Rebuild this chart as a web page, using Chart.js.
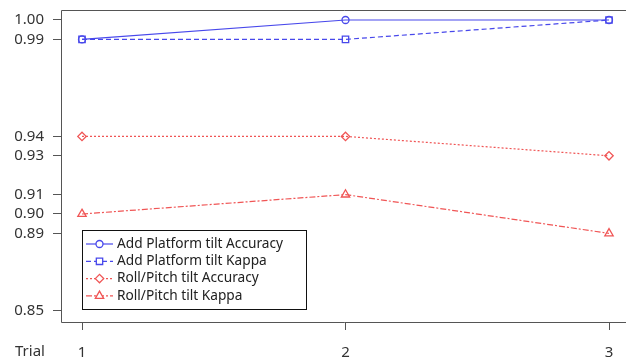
<!DOCTYPE html>
<html>
<head>
<meta charset="utf-8">
<script src="https://cdn.jsdelivr.net/npm/chart.js@4"></script>
<style>
  html, body { margin: 0; padding: 0; background: #fff; overflow: hidden; }
  #wrap { position: relative; width: 626px; height: 360px; }
</style>
</head>
<body>
<div id="wrap"><canvas id="c"></canvas></div>
<script>
// Trials on the x axis
const trials = [1, 2, 3];
// Classification results per trial
const addPlatformAccuracy = [0.99, 1.00, 1.00];
const addPlatformKappa    = [0.99, 0.99, 1.00];
const rollPitchAccuracy   = [0.94, 0.94, 0.93];
const rollPitchKappa      = [0.90, 0.91, 0.89];
// Tick values shown on the axes
const yTickValues = [0.85, 0.89, 0.90, 0.91, 0.93, 0.94, 0.99, 1.00];
const xTickValues = [1, 2, 3];

const BLUE = 'rgb(72,72,235)';
const RED = 'rgb(240,85,85)';
const FONT = '"Noto Sans", "Liberation Sans", sans-serif';

const pts = vals => vals.map((v, i) => ({ x: trials[i], y: v }));

const datasets = [
  { label: 'Add Platform tilt Accuracy', data: pts(addPlatformAccuracy),
    borderColor: BLUE, borderDash: [], pointStyle: 'circle', pointRadius: 3.5 },
  { label: 'Add Platform tilt Kappa', data: pts(addPlatformKappa),
    borderColor: BLUE, borderDash: [5, 3], pointStyle: 'rect', pointRadius: 4.5 },
  { label: 'Roll/Pitch tilt Accuracy', data: pts(rollPitchAccuracy),
    borderColor: RED, borderDash: [2, 2], pointStyle: 'rectRot', pointRadius: 4.2 },
  { label: 'Roll/Pitch tilt Kappa', data: pts(rollPitchKappa),
    borderColor: RED, borderDash: [6, 2, 2, 2], pointStyle: 'triangle', pointRadius: 4.8 }
].map(d => Object.assign(d, {
  pointBorderColor: d.borderColor,
  pointBackgroundColor: 'rgba(255,255,255,0)',
  pointBorderWidth: 1.3,
  borderWidth: 1.2,
  fill: false,
  tension: 0
}));

// Scales keep the chart area where the layout puts it (no label overhang padding)
const noOverhang = s => { s.paddingTop = 0; s.paddingBottom = 0; s.paddingLeft = 0; s.paddingRight = 0; };

// Frame on top/left/bottom, "Trial" caption and the boxed legend
const framePlugin = {
  id: 'frame',
  afterDraw(chart) {
    const { ctx, chartArea: a } = chart;
    ctx.save();
    ctx.strokeStyle = '#555';
    ctx.lineWidth = 1;
    ctx.beginPath();
    ctx.moveTo(a.right + 1, a.top + 0.5);
    ctx.lineTo(a.left + 0.5, a.top + 0.5);
    ctx.lineTo(a.left + 0.5, a.bottom + 0.5);
    ctx.lineTo(a.right + 1, a.bottom + 0.5);
    ctx.stroke();

    ctx.fillStyle = '#333';
    ctx.font = '15px ' + FONT;
    ctx.textAlign = 'left';
    ctx.textBaseline = 'middle';
    ctx.fillText('Trial', 15, 352);

    // legend box
    const bx = 82, by = 230, bw = 224, bh = 79;
    ctx.fillStyle = '#fff';
    ctx.fillRect(bx, by, bw, bh);
    ctx.strokeStyle = '#111';
    ctx.strokeRect(bx + 0.5, by + 0.5, bw, bh);
    ctx.font = '13.7px ' + FONT;
    chart.data.datasets.forEach((ds, i) => {
      const y = 244 + i * 17.3;
      ctx.strokeStyle = ds.borderColor;
      ctx.lineWidth = ds.borderWidth;
      ctx.setLineDash(ds.borderDash);
      ctx.beginPath();
      ctx.moveTo(86, y);
      ctx.lineTo(113, y);
      ctx.stroke();
      ctx.setLineDash([]);
      ctx.fillStyle = '#fff';
      ctx.strokeStyle = ds.borderColor;
      ctx.lineWidth = ds.pointBorderWidth;
      Chart.helpers.drawPoint(ctx, {
        pointStyle: ds.pointStyle, radius: ds.pointRadius, borderWidth: ds.pointBorderWidth
      }, 99.5, y);
      ctx.fillStyle = '#222';
      ctx.fillText(ds.label, 117, y);
    });
    ctx.restore();
  }
};

new Chart(document.getElementById('c'), {
  type: 'line',
  data: { datasets },
  options: {
    responsive: true,
    maintainAspectRatio: false,
    animation: false,
    layout: { autoPadding: false, padding: { top: 10, right: 0, left: 0, bottom: 0 } },
    plugins: { legend: { display: false }, tooltip: { enabled: false } },
    scales: {
      x: {
        type: 'linear',
        min: 0.9203, max: 3.0645,
        afterBuildTicks: s => { s.ticks = xTickValues.map(v => ({ value: v })); },
        afterFit: s => { s.height = 38; noOverhang(s); },
        border: { display: false },
        grid: { drawOnChartArea: false, drawTicks: true, tickLength: 8, color: '#555' },
        ticks: { color: '#333', font: { family: FONT, size: 15 }, padding: 14,
                 callback: v => String(v), maxRotation: 0 }
      },
      y: {
        type: 'linear',
        min: 0.84433, max: 1.00515,
        afterBuildTicks: s => { s.ticks = yTickValues.map(v => ({ value: v })); },
        afterFit: s => { s.width = 61; noOverhang(s); },
        border: { display: false },
        grid: { drawOnChartArea: false, drawTicks: true, tickLength: 8, color: '#555' },
        ticks: { color: '#333', font: { family: FONT, size: 15 }, padding: 9,
                 callback: v => v.toFixed(2) }
      }
    }
  },
  plugins: [framePlugin]
});
</script>
</body>
</html>
